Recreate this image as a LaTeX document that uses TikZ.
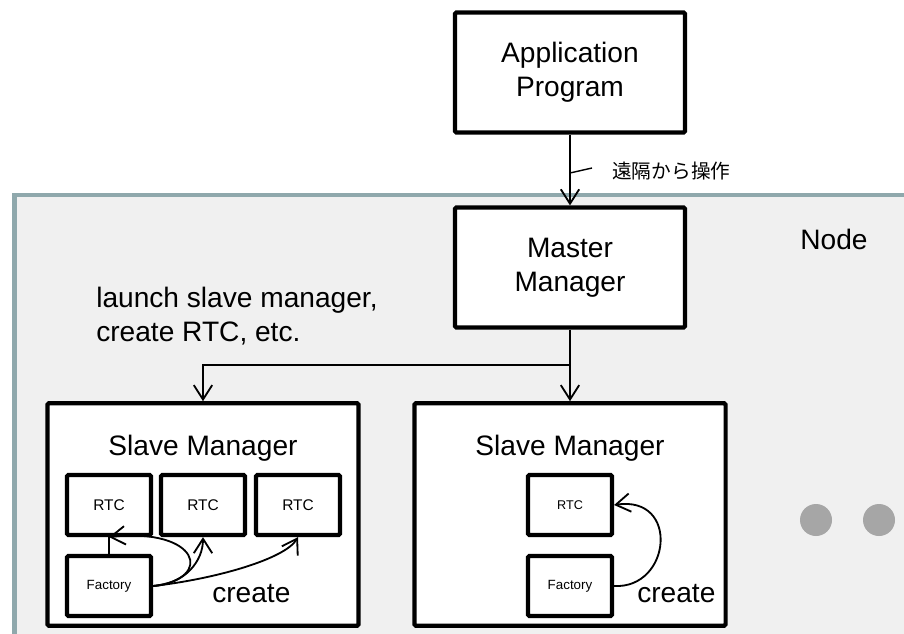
\documentclass[tikz,border=0pt]{standalone}
\usepackage{fontspec}
\setmainfont{Liberation Sans}
\newfontfamily\jpfont{Noto Sans CJK JP}
\usepackage{tikz}
\usetikzlibrary{arrows.meta, positioning, calc}
\usepackage{xcolor}
\definecolor{nframe}{HTML}{8FA8AC}
\definecolor{nfill}{HTML}{F0F0F0}
\definecolor{ndot}{HTML}{A6A6A6}
\tikzset{
  bigbox/.style={draw=black, fill=white, line width=3pt, rounded corners=1pt,
                 minimum width=5.75cm, minimum height=3.0cm, align=center,
                 font=\fontsize{20pt}{24pt}\selectfont},
  smbox/.style={draw=black, fill=white, line width=3pt, rounded corners=1pt,
                minimum width=2.1cm, minimum height=1.5cm, inner sep=0pt},
  arr/.style={-{Straight Barb[length=3.6mm, width=4.6mm]}, line width=1.3pt, black},
  lnk/.style={line width=1.3pt, black},
}

\begin{document}
\begin{tikzpicture}[
    slavebox/.style={draw=black, fill=white, line width=3pt, rounded corners=1pt,
                     minimum width=7.78cm, minimum height=5.56cm},
    bigtxt/.style={font=\fontsize{20pt}{24pt}\selectfont, inner sep=0pt},
  ]
  \useasboundingbox (0,0) rectangle (22.6,-15.85);

  % Node (Hintergrund)
  \draw[draw=nframe, fill=nfill, line width=3pt] (0.3625,-4.875) rectangle (23.5,-16.5);
  \node[bigtxt] (nodelbl) at (20.85,-5.975) {Node};

  % Application / Master
  \node[bigbox] (app) at (14.25,-1.8125) {Application\\Program};
  \node[bigbox] (master) at (14.25,-6.6875) {Master\\Manager};
  \draw[arr] (app.south) -- (master.north);
  \node[font=\jpfont\fontsize{14pt}{16pt}\selectfont, anchor=west, inner sep=0pt]
    (remote) at (15.3,-4.28) {遠隔から操作};
  \coordinate (tick) at (14.25,-4.325);
  \draw[lnk, line width=1pt] (tick) -- ([xshift=-0.5cm, yshift=0.08cm]remote.west);

  \node[bigtxt, anchor=west, align=left] (launch) at (2.4,-7.9)
    {launch slave manager,\\create RTC, etc.};

  % Slave Manager x2
  \node[slavebox] (slave1) at (5.075,-12.8625) {};
  \node[slavebox] (slave2) at (14.25,-12.8625) {};
  \node[bigtxt] (sm1) at (5.075,-11.2) {Slave Manager};
  \node[bigtxt] (sm2) at (14.25,-11.2) {Slave Manager};

  \coordinate (split) at (14.25,-9.125);
  \draw[lnk] (master.south) -- (split);
  \draw[arr] (split) -| (slave1.north);
  \draw[arr] (split) -- (slave2.north);

  % RTCs + Factory, links
  \node[smbox, font=\fontsize{11pt}{13pt}\selectfont] (rtca) at (2.725,-12.625) {RTC};
  \node[smbox, font=\fontsize{11pt}{13pt}\selectfont] (rtcb) at (5.075,-12.625) {RTC};
  \node[smbox, font=\fontsize{11pt}{13pt}\selectfont] (rtcc) at (7.45,-12.625) {RTC};
  \node[smbox, font=\fontsize{9.5pt}{11pt}\selectfont] (fac1) at (2.725,-14.65) {Factory};
  \draw[lnk] (fac1.north) -- (rtca.south);
  \draw[arr] (fac1.east) .. controls +(1.55,0.175) and +(2.25,0.25) .. (rtca.south);
  \draw[arr] (fac1.east) .. controls +(0.8,0.05) and +(0,-0.6) .. (rtcb.south);
  \draw[arr] (fac1.east) .. controls +(1.55,0.175) and +(-0.325,-0.55) .. (rtcc.south);
  \node[bigtxt, anchor=base west] (cr1) at (5.3,-15.05) {create};

  \node[smbox, font=\fontsize{9pt}{11pt}\selectfont] (rtc2) at (14.25,-12.625) {RTC};
  \node[smbox, font=\fontsize{9.5pt}{11pt}\selectfont] (fac2) at (14.25,-14.65) {Factory};
  \draw[arr] (fac2.east) .. controls +(1.425,-0.075) and +(1.65,0.25) .. (rtc2.east);
  \node[bigtxt, anchor=base west] (cr2) at (15.925,-15.05) {create};

  % ...
  \fill[ndot] (20.4,-13) circle (0.4);
  \fill[ndot] (21.975,-13) circle (0.4);
\end{tikzpicture}
\end{document}
